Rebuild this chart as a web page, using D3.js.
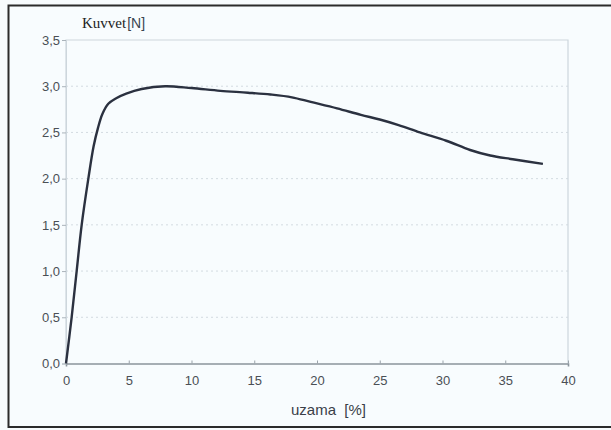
<!DOCTYPE html>
<html><head><meta charset="utf-8">
<script src="https://cdn.jsdelivr.net/npm/d3@7"></script>
<style>html,body{margin:0;padding:0;background:#f7fbfd;}svg{display:block;}</style>
</head><body>
<svg id="c" width="611" height="430"></svg>
<script>
const elongation = [0, 0.45, 0.85, 1.25, 1.78, 2.2, 2.55, 2.9, 3.37, 4.0, 4.8, 6.03, 7.9, 10.0, 12.3, 14.5, 16.3, 18.0, 19.5, 21.6, 23.5, 25.0, 26.5, 28.2, 30.3, 32.2, 33.8, 35.6, 38.0];
const force      = [0, 0.5, 1.0, 1.5, 2.0, 2.35, 2.55, 2.7, 2.81, 2.87, 2.92, 2.97, 3.0, 2.98, 2.95, 2.93, 2.91, 2.88, 2.83, 2.76, 2.69, 2.64, 2.58, 2.50, 2.41, 2.31, 2.25, 2.21, 2.16];
const xTicks = [0, 5, 10, 15, 20, 25, 30, 35, 40];
const yTicks = [0, 0.5, 1.0, 1.5, 2.0, 2.5, 3.0, 3.5];
const yTickLabels = ["0,0","0,5","1,0","1,5","2,0","2,5","3,0","3,5"];
const yTitle = "Kuvvet";
const yUnit = "[N]";
const xTitle = "uzama  [%]";

const svg = d3.select("#c");
// outer frame
svg.append("rect").attr("x",8.5).attr("y",5.5).attr("width",610).attr("height",421.5)
  .attr("fill","#f8fcfe").attr("stroke","#2b2b2b").attr("stroke-width",2);

const x = d3.scaleLinear().domain([0,40]).range([66,568]);
const y = d3.scaleLinear().domain([0,3.5]).range([363.5,40]);

// grid
svg.append("g").selectAll("line").data(yTicks.slice(1,-1)).join("line")
  .attr("x1",x(0)).attr("x2",x(40)).attr("y1",d=>y(d)).attr("y2",d=>y(d))
  .attr("stroke","#d3dbe1").attr("stroke-width",1).attr("stroke-dasharray","2,3");

// plot border (light)
svg.append("path").attr("d",`M${x(0)},${y(0)}V${y(3.5)}H${x(40)}V${y(0)}`)
  .attr("fill","none").attr("stroke","#cdd6dc").attr("stroke-width",1.2);

// x axis
const xAxis = d3.axisBottom(x).tickValues(xTicks).tickSize(3).tickFormat(d3.format("d"));
const gx = svg.append("g").attr("transform",`translate(0,${y(0)})`).call(xAxis);
gx.select(".domain").attr("stroke","#8a949c").attr("stroke-width",1.6);
gx.selectAll(".tick line").attr("stroke","#9aa3aa").attr("transform","translate(0,-3)");
gx.selectAll("text").attr("font-family","Liberation Sans, Arial, sans-serif").attr("font-size",13)
  .attr("fill","#4a4f55").attr("dy","1.2em");

// y axis
const yAxis = d3.axisLeft(y).tickValues(yTicks).tickSize(4).tickFormat((d,i)=>yTickLabels[i]);
const gy = svg.append("g").attr("transform",`translate(${x(0)},0)`).call(yAxis);
gy.select(".domain").attr("stroke","#cdd6dc");
gy.selectAll(".tick line").attr("stroke","#aab3ba");
gy.selectAll("text").attr("font-family","Liberation Sans, Arial, sans-serif").attr("font-size",13)
  .attr("fill","#4a4f55").attr("x",-6);

// curve
const line = d3.line().x((d,i)=>x(elongation[i])).y(d=>y(d)).curve(d3.curveCatmullRom.alpha(0.5));
svg.append("path").datum(force).attr("d",line).attr("fill","none")
  .attr("stroke","#2b3140").attr("stroke-width",2.4).attr("stroke-linejoin","round");

// titles
const t = svg.append("text").attr("x",82).attr("y",28).attr("fill","#222");
t.append("tspan").attr("font-family","Liberation Serif, Times New Roman, serif").attr("font-size",15).text(yTitle);
t.append("tspan").attr("font-family","Liberation Sans, Arial, sans-serif").attr("font-size",14).attr("fill","#3a4550").attr("dx",1).text(yUnit);

svg.append("text").attr("x",291).attr("y",415).attr("font-family","Liberation Sans, Arial, sans-serif")
  .attr("font-size",15).attr("fill","#3a4048").attr("xml:space","preserve").text(xTitle);
</script>
</body></html>
